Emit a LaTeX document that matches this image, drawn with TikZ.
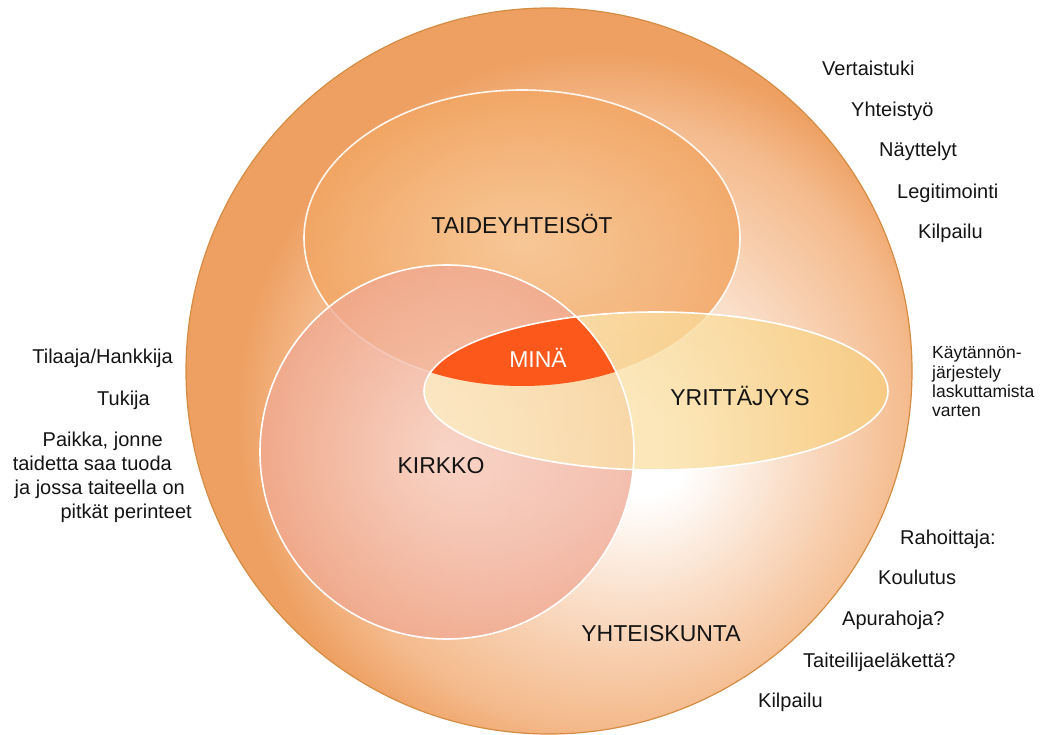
\documentclass[tikz,border=0pt]{standalone}
\usepackage{fontspec}
\setmainfont{Liberation Sans}
\definecolor{ringout}{RGB}{238,160,98}
\definecolor{ringlow}{RGB}{244,186,140}
\definecolor{ringmid}{RGB}{249,216,190}
\definecolor{ringedge}{RGB}{212,140,66}
\definecolor{taidein}{RGB}{247,198,146}
\definecolor{taideout}{RGB}{242,166,100}
\definecolor{kirkkoin}{RGB}{248,210,200}
\definecolor{kirkkoout}{RGB}{240,168,146}
\definecolor{yritysin}{RGB}{253,240,198}
\definecolor{yritysout}{RGB}{248,206,126}
\definecolor{minared}{RGB}{252,88,28}
\definecolor{ink}{RGB}{20,20,20}
\pgfdeclareradialshading{ringglow}{\pgfpoint{7bp}{-6bp}}{color(0bp)=(white); color(3bp)=(white); color(13bp)=(ringmid); color(21bp)=(ringlow); color(25bp)=(ringout); color(50bp)=(ringout)}

\begin{document}
\begin{tikzpicture}[x=1pt, y=-1pt,
        side/.style = {font=\fontsize{20}{22}\selectfont, text=ink, inner sep=0pt},
        note/.style = {font=\fontsize{17.5}{19}\selectfont, text=ink, inner sep=0pt, anchor=base west},
        big/.style = {font=\fontsize{23}{26}\selectfont, text=ink, inner sep=0pt, anchor=base},
        rim/.style = {draw=white, line width=1.6pt}
    ]
    \useasboundingbox (0,0) rectangle (1058,735);
    \coordinate (ring) at (549,371);
    \coordinate (taide) at (522,238);
    \coordinate (kirkko) at (447,452);
    \coordinate (yritys) at (656,391);

    \shade[shading=ringglow, draw=ringedge, line width=1.2pt] (ring) circle [radius=363];
    \shade[inner color=taidein, outer color=taideout, fill opacity=0.85] (taide) ellipse [x radius=218, y radius=148];
    \draw[rim, draw opacity=0.9] (taide) ellipse [x radius=218, y radius=148];
    \shade[inner color=kirkkoin, outer color=kirkkoout, fill opacity=0.75] (kirkko) circle [radius=187];
    \shade[left color=yritysin, right color=yritysout, fill opacity=0.75] (yritys) ellipse [x radius=232, y radius=79];
    \begin{scope}
        \clip (taide) ellipse [x radius=218, y radius=148];
        \clip (kirkko) circle [radius=187];
        \fill[minared] (yritys) ellipse [x radius=232, y radius=79];
    \end{scope}
    \draw[rim] (kirkko) circle [radius=187];
    \draw[rim] (yritys) ellipse [x radius=232, y radius=79];

    \node[big] (taidelbl) at (522,234) {TAIDEYHTEISÖT};
    \node[big, text=white] (minalbl) at (538,367) {MINÄ};
    \node[big] (yrityslbl) at (740,405) {YRITTÄJYYS};
    \node[big] (kirkkolbl) at (441,473) {KIRKKO};
    \node[big] (yhtlbl) at (661,641) {YHTEISKUNTA};

    \node[side, anchor=base east] (tilaaja) at (173,364) {Tilaaja/Hankkija};
    \node[side, anchor=base east] (tukija) at (150,405) {Tukija};
    \node[side, anchor=base east] (paikka1) at (163,446) {Paikka, jonne};
    \node[side, anchor=base east] (paikka2) at (172,470) {taidetta saa tuoda};
    \node[side, anchor=base east] (paikka3) at (185,494) {ja jossa taiteella on};
    \node[side, anchor=base east] (paikka4) at (192,518) {pitkät perinteet};

    \node[side, anchor=base west] (vertais) at (822,76) {Vertaistuki};
    \node[side, anchor=base west] (yhteis) at (851,117) {Yhteistyö};
    \node[side, anchor=base west] (nayttely) at (879,157) {Näyttelyt};
    \node[side, anchor=base west] (legit) at (897,199) {Legitimointi};
    \node[side, anchor=base west] (kilpa1) at (918,239) {Kilpailu};

    \node[note] (kaytanto1) at (932,359) {Käytännön-};
    \node[note] (kaytanto2) at (932,379) {järjestely};
    \node[note] (kaytanto3) at (932,398) {laskuttamista};
    \node[note] (kaytanto4) at (932,417) {varten};

    \node[side, anchor=base west] (rahoit) at (900,544) {Rahoittaja:};
    \node[side, anchor=base west] (koulu) at (878,584) {Koulutus};
    \node[side, anchor=base west] (apuraha) at (842,625) {Apurahoja?};
    \node[side, anchor=base west] (elake) at (803,667) {Taiteilijaeläkettä?};
    \node[side, anchor=base west] (kilpa2) at (758,707) {Kilpailu};
\end{tikzpicture}
\end{document}
